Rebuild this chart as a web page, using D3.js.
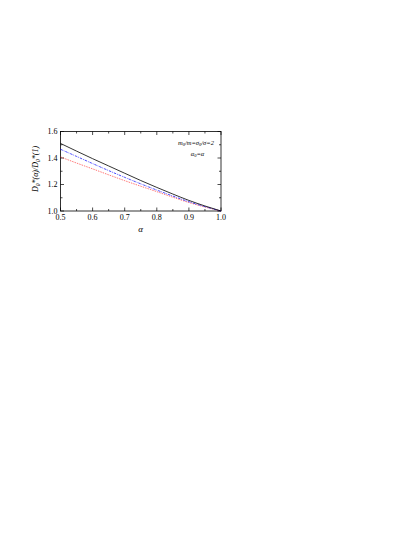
<!DOCTYPE html>
<html><head><meta charset="utf-8">
<script src="https://cdn.jsdelivr.net/npm/d3@7"></script>
<style>body{margin:0;background:#fff}svg{display:block}text{font-family:"Liberation Serif","Times New Roman",serif;fill:#000}</style>
</head><body><svg id="c" width="415" height="537"></svg>
<script>
const alphas = [0.5,0.55,0.6,0.65,0.7,0.75,0.8,0.85,0.9,0.95,1.0];
const blackVals = [1.51,1.452,1.395,1.34,1.285,1.23,1.178,1.128,1.08,1.038,1.0];
const blueVals  = [1.466,1.412,1.358,1.305,1.254,1.205,1.158,1.113,1.07,1.033,1.0];
const redVals   = [1.408,1.362,1.318,1.273,1.229,1.187,1.146,1.104,1.064,1.03,1.0];
const xTicks = [0.5,0.6,0.7,0.8,0.9,1.0];
const yTicks = [1.0,1.2,1.4,1.6];

const svg = d3.select("#c");
const L=60.5,R=221,T=131.5,B=211;
const x = d3.scaleLinear().domain([0.5,1.0]).range([L,R]);
const y = d3.scaleLinear().domain([1.0,1.6]).range([B,T]);

const g = svg.append("g");
g.append("rect").attr("x",L).attr("y",T).attr("width",R-L).attr("height",B-T)
  .attr("fill","none").attr("stroke","#000").attr("stroke-width",0.8);

const xMinor = d3.range(0.55,1.0,0.1);
const yMinor = d3.range(1.1,1.6,0.2);
function ticks(vals, scale, axis, len){
  vals.forEach(v=>{
    const p=scale(v);
    if(axis==="x"){
      g.append("line").attr("x1",p).attr("x2",p).attr("y1",B).attr("y2",B-len).attr("stroke","#000").attr("stroke-width",0.7);
      g.append("line").attr("x1",p).attr("x2",p).attr("y1",T).attr("y2",T+len).attr("stroke","#000").attr("stroke-width",0.7);
    } else {
      g.append("line").attr("y1",p).attr("y2",p).attr("x1",L).attr("x2",L+len).attr("stroke","#000").attr("stroke-width",0.7);
      g.append("line").attr("y1",p).attr("y2",p).attr("x1",R).attr("x2",R-len).attr("stroke","#000").attr("stroke-width",0.7);
    }
  });
}
ticks(xTicks,x,"x",3.5); ticks(xMinor,x,"x",2);
ticks(yTicks,y,"y",3.5); ticks(yMinor,y,"y",2);

xTicks.forEach(v=>{
  g.append("text").attr("x",x(v)).attr("y",B+8.5).attr("text-anchor","middle")
   .attr("font-size",8).text(v.toFixed(1));
});
yTicks.forEach(v=>{
  g.append("text").attr("x",L-3).attr("y",y(v)+2.8).attr("text-anchor","end")
   .attr("font-size",8).text(v.toFixed(1));
});

const line = d3.line().curve(d3.curveMonotoneX);
function draw(vals,color,dash,w){
  g.append("path").attr("d",line(alphas.map((a,i)=>[x(a),y(vals[i])])))
   .attr("fill","none").attr("stroke",color).attr("stroke-width",w)
   .attr("stroke-dasharray",dash);
}
draw(redVals,"#ff2020","1.5,1",0.6);
draw(blueVals,"#2020ff","2.5,1,0.8,1",0.8);
draw(blackVals,"#000","none",0.8);

g.append("text").attr("x",140.5).attr("y",231.5).attr("text-anchor","middle")
 .attr("font-size",9).attr("font-style","italic").text("α");
const yl = g.append("text").attr("transform","translate(38,169) rotate(-90)")
 .attr("text-anchor","middle").attr("font-size",8).attr("font-style","italic");
yl.append("tspan").text("D");
yl.append("tspan").attr("font-size",5.5).attr("dy",2).text("0");
yl.append("tspan").attr("dy",-2).text("*(α)/D");
yl.append("tspan").attr("font-size",5.5).attr("dy",2).text("0");
yl.append("tspan").attr("dy",-2).text("*(1)");

const a1 = g.append("text").attr("x",196).attr("y",144.5).attr("text-anchor","middle")
 .attr("font-size",6.5).attr("font-style","italic");
a1.append("tspan").text("m");
a1.append("tspan").attr("font-size",4.5).attr("dy",1.5).text("0");
a1.append("tspan").attr("dy",-1.5).text("/m=σ");
a1.append("tspan").attr("font-size",4.5).attr("dy",1.5).text("0");
a1.append("tspan").attr("dy",-1.5).text("/σ=2");
const a2 = g.append("text").attr("x",197.5).attr("y",155.5).attr("text-anchor","middle")
 .attr("font-size",6.5).attr("font-style","italic");
a2.append("tspan").text("α");
a2.append("tspan").attr("font-size",4.5).attr("dy",1.5).text("0");
a2.append("tspan").attr("dy",-1.5).text("=α");
</script></body></html>
